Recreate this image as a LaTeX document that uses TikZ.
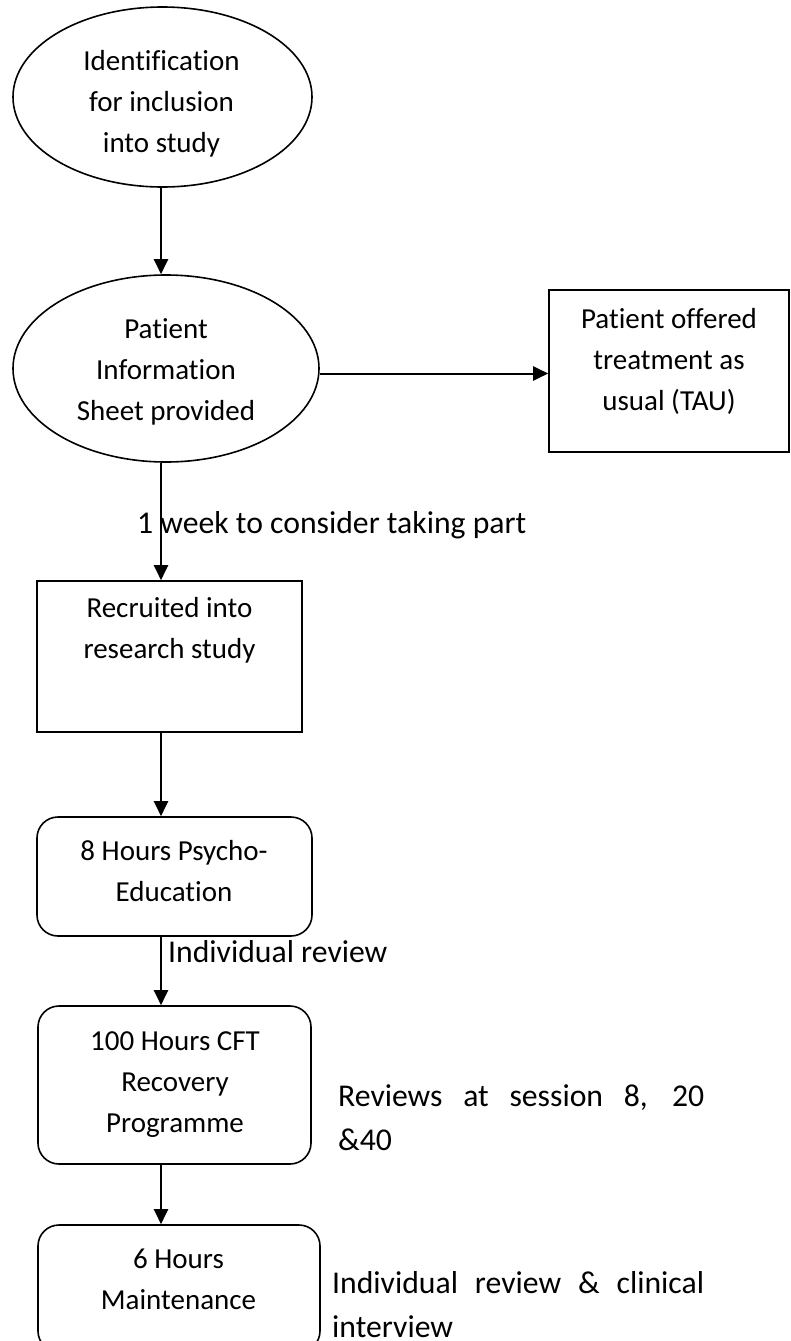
\documentclass[tikz,border=0pt]{standalone}
\usepackage{fontspec}
\setmainfont{Carlito}[Ligatures={CommonOff,ContextualOff}]
\usetikzlibrary{shapes.geometric,arrows.meta}
\begin{document}
\begin{tikzpicture}[x=1pt,y=1pt,
 shp/.style={draw=black,line width=1.6pt,inner sep=0pt},
 ell/.style={shp,ellipse},
 rbox/.style={shp,rectangle},
 rrbox/.style={shp,rectangle,rounded corners=21pt},
 txt/.style={font=\fontsize{29}{41}\selectfont,align=center,inner sep=0pt},
 lbl/.style={font=\fontsize{31.7}{44}\selectfont,align=left,inner sep=0pt},
 arr/.style={line width=2pt,-{Triangle[width=14pt,length=15pt]}}]
\useasboundingbox (0,0) rectangle (790,-1341);
\clip (0,0) rectangle (790,-1341);
% shapes
\node[ell,minimum width=299pt,minimum height=180pt] (e1) at (162.5,-97) {};
\node[ell,minimum width=306pt,minimum height=187pt] (e2) at (166,-368.5) {};
\node[rbox,minimum width=240pt,minimum height=162pt] (tau) at (669,-371) {};
\node[rbox,minimum width=265pt,minimum height=151pt] (rec) at (169.5,-656.5) {};
\node[rrbox,minimum width=275pt,minimum height=119pt] (psy) at (174.5,-876.5) {};
\node[rrbox,minimum width=273pt,minimum height=158pt] (cft) at (174.5,-1085) {};
\node[rrbox,minimum width=282pt,minimum height=127pt] (mnt) at (179,-1288.5) {};
% texts
\node[txt] (t1) at (161.5,-102.8) {\strut Identification\\\strut for inclusion\\\strut into study};
\node[txt] (t2) at (166,-370.8) {\strut Patient\\\strut Information\\\strut Sheet provided};
\node[txt] (t3) at (669,-360.8) {\strut Patient offered\\\strut treatment as\\\strut usual (TAU)};
\node[txt] (t4) at (169.5,-629.3) {\strut Recruited into\\\strut research study};
\node[txt] (t5) at (174,-872.3) {\strut 8 Hours Psycho-\\\strut Education};
\node[txt] (t6) at (175,-1082.8) {\strut 100 Hours CFT\\\strut Recovery\\\strut Programme};
\node[txt] (t7) at (178.5,-1280.3) {\strut 6 Hours\\\strut Maintenance};
% labels
\node[lbl,anchor=base west] (l1) at (137,-533) {1 week to consider taking part};
\node[lbl,anchor=base west] (l2) at (168,-962) {Individual review};
\node[lbl,anchor=north west] (l3) at (338,-1075.2) {\strut\makebox[366pt][s]{Reviews at session 8, 20}\\\&40};
\node[lbl,anchor=north west] (l4) at (332,-1262.2) {\strut\makebox[372pt][s]{Individual review \& clinical}\\interview};
% connectors
\coordinate (ax) at (161,0);
\draw[arr] (e1.south -| ax) -- (e2.north -| ax);
\draw[arr] ([yshift=-5pt]e2.east) -- ([yshift=-5pt]e2.east -| tau.west);
\draw[arr] (e2.south -| ax) -- (rec.north -| ax);
\draw[arr] (rec.south -| ax) -- (psy.north -| ax);
\draw[arr] (psy.south -| ax) -- (cft.north -| ax);
\draw[arr] (cft.south -| ax) -- (mnt.north -| ax);
\end{tikzpicture}
\end{document}
